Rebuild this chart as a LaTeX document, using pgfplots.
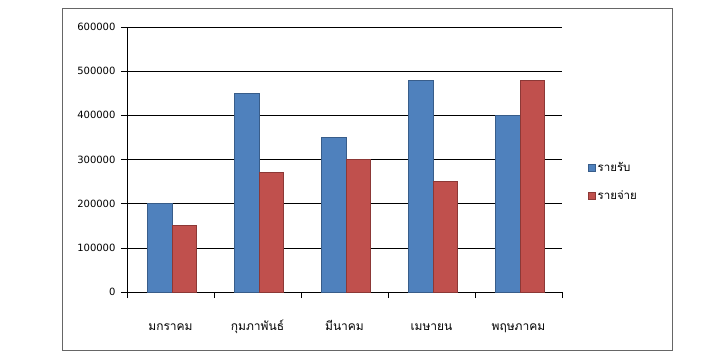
\documentclass[border=0pt]{standalone}
\usepackage{fontspec}
\setmainfont{DejaVu Sans}
\newfontfamily\thaifont[Script=Thai]{Loma}
\usepackage{pgfplots}
\pgfplotsset{compat=1.18}
\definecolor{sblue}{HTML}{4F81BD}
\definecolor{sbluee}{HTML}{385D8A}
\definecolor{sred}{HTML}{C0504D}
\definecolor{sredd}{HTML}{8C3836}
\begin{document}
\begin{tikzpicture}
\begin{axis}[scale only axis,
  width=435pt, height=265pt,
  font=\fontsize{10}{12}\selectfont,
  xmin=-0.5, xmax=4.5, ymin=0, ymax=600000,
  ytick={0,100000,...,600000},
  scaled y ticks=false,
  yticklabel style={/pgf/number format/fixed, /pgf/number format/1000 sep={}, xshift=-2pt},
  /pgf/number format/assume math mode=true,
  ymajorgrids, grid style={black, line width=0.6pt},
  separate axis lines,
  axis x line*=bottom, axis y line*=left,
  axis line style={-, black, line width=0.6pt},
  tick align=outside, major tick length=6pt,
  tick style={black, line width=0.6pt},
  xtick={-0.5,0.5,...,4.5}, xticklabels={},
  extra x ticks={0,1,2,3,4},
  extra x tick labels={{\thaifont มกราคม},{\thaifont กุมภาพันธ์},{\thaifont มีนาคม},{\thaifont เมษายน},{\thaifont พฤษภาคม}},
  extra x tick style={major tick length=0pt, tick label style={yshift=-23pt, text height=12pt, text depth=4pt, font=\thaifont\fontsize{12}{14}\selectfont}},
  legend style={at={(1.052,0.505)}, anchor=north west, draw=none, fill=none,
    row sep=14pt, font=\thaifont\fontsize{11.5}{13}\selectfont},
  legend cell align=left,
  legend image code/.code={\draw[#1, line width=0.8pt] (0pt,-3.5pt) rectangle (7pt,3.5pt);},
]
\addplot[ybar, bar width=24.5pt, bar shift=-10.5pt, fill=sblue, draw=sbluee, line width=0.8pt]
  coordinates {(0,200000) (1,450000) (2,350000) (3,480000) (4,400000)};
\addlegendentry{รายรับ}
\addplot[ybar, bar width=24.5pt, bar shift=14pt, fill=sred, draw=sredd, line width=0.8pt]
  coordinates {(0,150000) (1,270000) (2,300000) (3,250000) (4,480000)};
\addlegendentry{รายจ่าย}
\end{axis}
\path[use as bounding box] (-127pt,-68pt) rectangle (593pt,292pt);
\draw[gray!80!black, line width=0.8pt] (-64.5pt,-58.5pt) rectangle (545.5pt,283.5pt);
\end{tikzpicture}
\end{document}
